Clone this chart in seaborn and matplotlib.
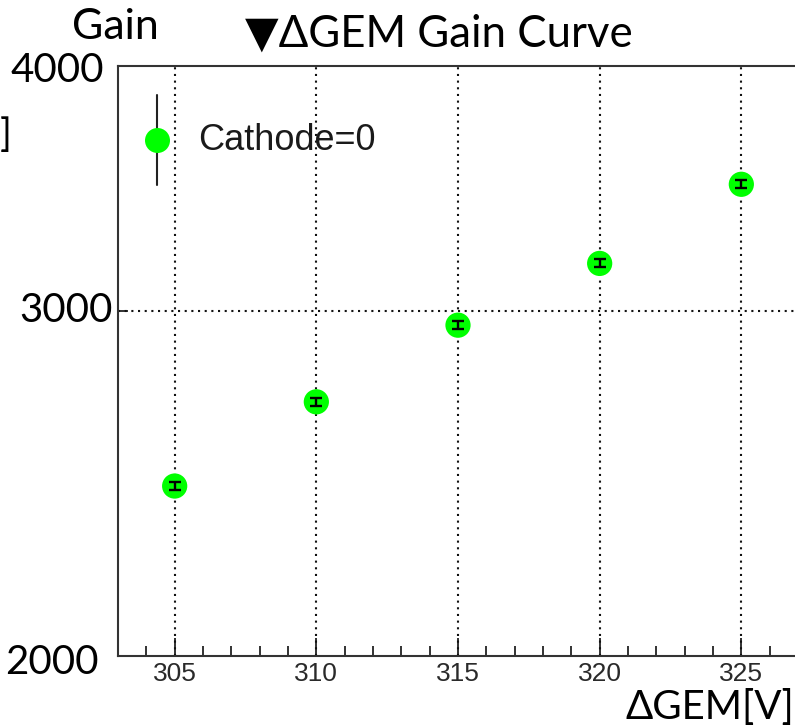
import numpy as np
import pandas as pd
import matplotlib
matplotlib.use("Agg")
import matplotlib.pyplot as plt
import matplotlib.transforms as mtransforms
import seaborn as sns

# Gain vs. ΔGEM voltage, cathode at 0 V
delta_gem = [305, 310, 315, 320, 325]
gain = [2442, 2696, 2950, 3172, 3481]
gain_err = [12, 13, 14, 15, 16]
series_label = "Cathode=0"

y_tick_values = [2000, 3000, 4000]
y_tick_labels = ["2000", "3000", "4000"]
x_major_ticks = [305, 310, 315, 320, 325]

df = pd.DataFrame({"dgem": delta_gem, "gain": gain, "err": gain_err})

sns.set_style("white")
plt.rcParams["font.family"] = ["Lato", "DejaVu Sans"]

W, H = 795, 728
fig = plt.figure(figsize=(W / 100, H / 100), dpi=100)
ax = fig.add_axes([118 / W, 72 / H, 680 / W, 590 / H])

ax.set_yscale("log")
ax.set_xlim(303, 327)
ax.set_ylim(2000, 4000)

frame = "#333333"
for side in ("left", "top", "bottom"):
    ax.spines[side].set_color(frame)
    ax.spines[side].set_linewidth(1.5)
ax.spines["right"].set_visible(False)

# grid: dotted at major x ticks and at 3000
grid_kw = dict(color="#111111", linewidth=1.5, linestyle=(0, (1, 2.2)), zorder=1)
for xv in x_major_ticks:
    ax.axvline(xv, **grid_kw)
ax.axhline(3000, **grid_kw)

# ticks
ax.set_xticks(x_major_ticks)
ax.set_xticks(np.arange(304, 327, 1), minor=True)
ax.tick_params(axis="x", which="major", direction="in", length=13, width=1.4,
               color=frame, bottom=True, top=False, pad=4,
               labelsize=19, labelcolor="#2a2a2a")
ax.tick_params(axis="x", which="minor", direction="in", length=7, width=1.4,
               color=frame, bottom=True, top=False)
for lab in ax.get_xticklabels():
    lab.set_fontfamily(["Liberation Sans", "DejaVu Sans"])

ax.yaxis.set_minor_locator(matplotlib.ticker.NullLocator())
ax.set_yticks([3000])
ax.set_yticklabels([])
ax.tick_params(axis="y", which="major", direction="in", length=7, width=1.4,
               color=frame, left=True, right=False)

# y tick labels drawn as large text beside the axis
ytrans = mtransforms.blended_transform_factory(ax.transAxes, ax.transData)
offsets = {2000: (-19, -7), 3000: (-5, 0), 4000: (-14, -4)}
for val, lab in zip(y_tick_values, y_tick_labels):
    dx, dy = offsets[val]
    tr = ytrans + mtransforms.ScaledTranslation(dx / 100, dy / 100, fig.dpi_scale_trans)
    ax.text(0, val, lab, transform=tr, ha="right", va="center",
            fontsize=29, color="black", clip_on=False)

# data points with error bars
ax.errorbar(df["dgem"], df["gain"], yerr=df["err"], fmt="none",
            ecolor="black", elinewidth=1.7, capsize=4, capthick=1.7, zorder=4)
sns.scatterplot(data=df, x="dgem", y="gain", ax=ax, color="#00ff00",
                s=330, edgecolor="none", zorder=3, legend=False)
ax.set_xlabel("")
ax.set_ylabel("")

# legend entry
lx, ly = (157 - 118) / 680, (656 - 140) / 590
ax.plot([lx, lx], [(656 - 95) / 590, (656 - 185) / 590], transform=ax.transAxes,
        color="#222222", linewidth=1.5, zorder=5, clip_on=False)
ax.plot([lx], [ly], "o", transform=ax.transAxes, color="#00ff00",
        markersize=18, markeredgewidth=0, zorder=6, clip_on=False)
ax.text((198 - 118) / 680, ly, series_label, transform=ax.transAxes,
        ha="left", va="center", fontsize=26, color="#1a1a1a",
        family=["Liberation Sans", "DejaVu Sans"])

# titles and axis captions
fig.text(115 / W, 1 - 39 / H, "Gain", ha="center", va="baseline",
         fontsize=31, color="black")
fig.text(245 / W, 1 - 47 / H, "▼ΔGEM Gain Curve", ha="left", va="baseline",
         fontsize=31.5, color="black", family=["Lato", "DejaVu Sans"])
fig.text(794 / W, 1 - 719 / H, "ΔGEM[V]", ha="right", va="baseline",
         fontsize=29, color="black", family=["Lato", "DejaVu Sans"])
fig.text(0, 1 - 135 / H, "]", ha="left", va="center",
         fontsize=28, color="black")

fig.savefig("out.png", dpi=100)
